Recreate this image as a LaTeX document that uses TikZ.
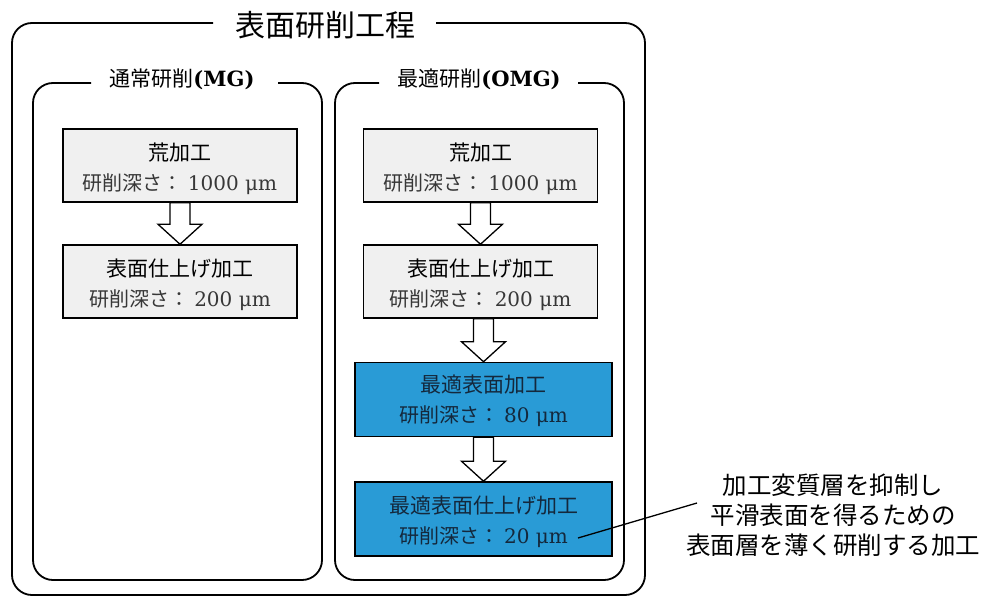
\documentclass[tikz,border=0pt]{standalone}
\usepackage{fontspec}
\setmainfont{DejaVu Serif}
\newfontfamily\cjk{Noto Sans CJK JP}
\usetikzlibrary{calc}
\definecolor{obl}{RGB}{41,155,214}
\definecolor{gfill}{RGB}{240,240,240}
\definecolor{txtg}{RGB}{55,55,55}
\definecolor{txtb}{RGB}{20,40,60}
\newcommand\fsz[2]{\fontsize{#1}{#2}\selectfont}
\newcommand\blkarrow[2]{%
  \coordinate (#1#2s) at (#1.south -| #2.north);
  \draw[blk] ($(#1#2s)+(-10,0)$) -- ($(#2.north)+(-10,-20)$) -- ($(#2.north)+(-22,-20)$)
    -- (#2.north) -- ($(#2.north)+(22,-20)$) -- ($(#2.north)+(10,-20)$)
    -- ($(#1#2s)+(10,0)$) -- cycle;}
\begin{document}
\begin{tikzpicture}[x=1pt,y=-1pt,
  frame/.style={line width=1.8pt, rounded corners=20pt},
  gbox/.style={draw, line width=1.5pt, fill=gfill, minimum width=234pt, minimum height=73pt, inner sep=0pt},
  bbox/.style={draw, line width=1.5pt, fill=obl, minimum width=257pt, minimum height=74pt, inner sep=0pt},
  btext/.style={align=center, inner sep=0pt, font=\cjk\fsz{21}{30}},
  hdr/.style={font=\cjk\fsz{21}{25}, inner sep=0pt},
  blk/.style={draw, line width=1.3pt, fill=white, line join=miter},
]
\useasboundingbox (0,0) rectangle (983,597);

% outer frame
\node[font=\cjk\fsz{30}{34}, inner sep=0pt] (title) at (325,25) {表面研削工程};
\draw[frame] (213,23) -- (12,23) -- (12,595) -- (645,595) -- (645,23) -- (436,23);

% MG frame
\node[hdr] (mgt) at (182,79) {通常研削{\normalfont\bfseries (MG)}};
\draw[frame] (91,83) -- (33,83) -- (33,580) -- (322,580) -- (322,83) -- (278,83);

% OMG frame
\node[hdr] (omgt) at (479,79) {最適研削{\normalfont\bfseries (OMG)}};
\draw[frame] (379,83) -- (335,83) -- (335,580) -- (624,580) -- (624,83) -- (578,83);

% boxes
\node[gbox] (l1) at (180,165.5) {};
\node[gbox] (l2) at (180,281.5) {};
\node[gbox] (r1) at (480.5,165.5) {};
\node[gbox] (r2) at (480.5,281.5) {};
\node[bbox] (r3) at (483.5,399.5) {};
\node[bbox] (r4) at (483.5,519) {};

\node[btext] (l1t) at ([yshift=-3pt]l1.center) {荒加工\\{\fsz{20}{30}\color{txtg}研削深さ：\hspace{5pt}{\normalfont 1000 μm}}};
\node[btext] (l2t) at ([yshift=-3pt]l2.center) {表面仕上げ加工\\{\fsz{20}{30}\color{txtg}研削深さ：\hspace{5pt}{\normalfont 200 μm}}};
\node[btext] (r1t) at ([yshift=-3pt]r1.center) {荒加工\\{\fsz{20}{30}\color{txtg}研削深さ：\hspace{5pt}{\normalfont 1000 μm}}};
\node[btext] (r2t) at ([yshift=-3pt]r2.center) {表面仕上げ加工\\{\fsz{20}{30}\color{txtg}研削深さ：\hspace{5pt}{\normalfont 200 μm}}};
\node[btext, text=txtb] (r3t) at ([yshift=-1pt]r3.center) {最適表面加工\\{\fsz{20}{30}研削深さ：\hspace{5pt}{\normalfont 80 μm}}};
\node[btext, text=txtb] (r4t) at ([yshift=-3pt]r4.center) {最適表面仕上げ加工\\{\fsz{20}{30}研削深さ：\hspace{5pt}{\normalfont 20 μm}}};

% arrows
\blkarrow{l1}{l2}
\blkarrow{r1}{r2}
\blkarrow{r2}{r3}
\blkarrow{r3}{r4}

% callout
\node[font=\cjk\fsz{24.5}{30}, align=center, inner sep=0pt] (note) at (833,515)
  {加工変質層を抑制し\\平滑表面を得るための\\表面層を薄く研削する加工};
\coordinate (cs) at (578,538);
\coordinate (ce) at (697,503);
\draw[line width=1.3pt] (cs) -- (ce);
\end{tikzpicture}
\end{document}
